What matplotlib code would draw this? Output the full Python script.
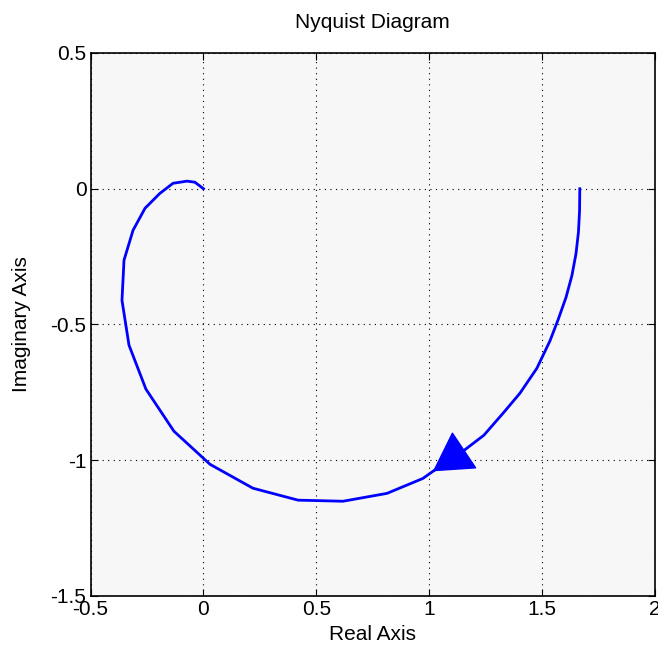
import matplotlib
matplotlib.use("Agg")
import matplotlib.pyplot as plt

# Nyquist curve (real, imaginary)
re_vals = [1.667, 1.666, 1.661, 1.650, 1.632, 1.606, 1.572, 1.535, 1.477, 1.402,
           1.331, 1.242, 1.149, 1.016, 0.972, 0.813, 0.618, 0.419, 0.219, 0.029,
           -0.131, -0.255, -0.330, -0.361, -0.352, -0.312, -0.259, -0.193, -0.135,
           -0.073, -0.038, 0.0]
im_vals = [0.0, -0.08, -0.16, -0.24, -0.32, -0.40, -0.48, -0.56, -0.661, -0.753,
           -0.823, -0.908, -0.967, -1.041, -1.067, -1.122, -1.151, -1.147, -1.103, -1.015,
           -0.893, -0.738, -0.576, -0.411, -0.263, -0.153, -0.072, -0.017, 0.020,
           0.028, 0.024, 0.0]
arrow_idx = 13

xticks = [-0.5, 0, 0.5, 1, 1.5, 2]
xticklabels = ['-0.5', '0', '0.5', '1', '1.5', '2']
yticks = [-1.5, -1, -0.5, 0, 0.5]
yticklabels = ['-1.5', '-1', '-0.5', '0', '0.5']

plt.rcParams['font.family'] = ['Liberation Sans', 'DejaVu Sans']

fig = plt.figure(figsize=(6.58, 6.46), dpi=100)
ax = fig.add_axes([0.1377, 0.0774, 0.8577, 0.8406])
ax.set_facecolor('#f7f7f7')

ax.plot(re_vals, im_vals, color='#0000ff', lw=2.0, solid_joinstyle='round')
ax.annotate('', xy=(re_vals[arrow_idx], im_vals[arrow_idx]),
            xytext=(re_vals[arrow_idx - 1], im_vals[arrow_idx - 1]),
            arrowprops=dict(arrowstyle='-|>,head_length=26,head_width=15',
                            mutation_scale=1, color='#0000ff', lw=1,
                            shrinkA=0, shrinkB=0))

ax.set_xlim(-0.5, 2)
ax.set_ylim(-1.5, 0.5)
ax.set_xticks(xticks)
ax.set_xticklabels(xticklabels)
ax.set_yticks(yticks)
ax.set_yticklabels(yticklabels)
ax.tick_params(direction='in', length=5, width=0.8, top=True, right=True,
               labelsize=15, pad=3)
ax.grid(True, color='black', linestyle=(0, (1, 4)), linewidth=0.8)
for s in ax.spines.values():
    s.set_linewidth(1.2)

ax.set_title('Nyquist Diagram', fontsize=15, pad=18)
ax.set_xlabel('Real Axis', fontsize=15, labelpad=4)
ax.set_ylabel('Imaginary Axis', fontsize=15, labelpad=14)

fig.savefig('out.png', dpi=100)
